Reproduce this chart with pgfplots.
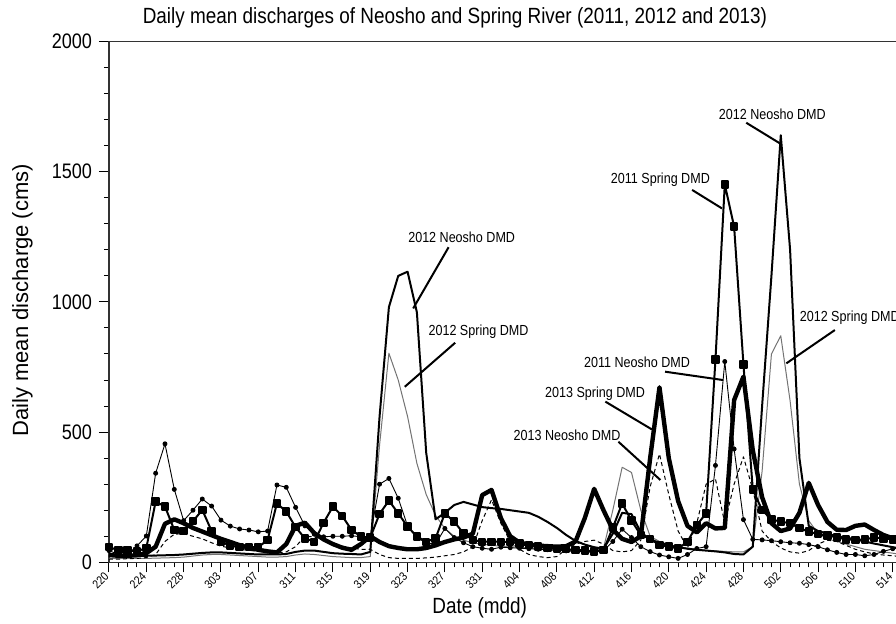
\documentclass[border=0pt]{standalone}
\usepackage{fontspec}
\setmainfont{Liberation Sans}[FakeStretch=0.86]
\newfontfamily\verticalfont{Liberation Sans}
\usepackage{pgfplots}
\usepackage{pgfplotstable}
\pgfplotsset{compat=1.18}

% Daily mean discharge (cms); i = day index from 20 Feb (220) to 15 May
% s11 = 2011 Spring, n11 = 2011 Neosho, n12 = 2012 Neosho,
% s12 = 2012 Spring, s13 = 2013 Spring, n13 = 2013 Neosho
\pgfplotstableread{
i s11 n11 n12 s12 s13 n13
0 58 45 25 15 28 12
1 47 30 25 15 25 12
2 45 30 25 15 25 14
3 42 63 25 15 27 15
4 55 101 25 15 35 18
5 233 342 26 16 60 30
6 214 455 27 17 148 80
7 124 280 28 18 165 108
8 120 160 30 20 150 110
9 158 200 33 24 132 100
10 201 243 36 28 118 90
11 120 216 38 30 104 75
12 79 162 38 30 90 62
13 63 139 36 28 78 55
14 58 128 34 26 66 50
15 58 124 32 24 56 46
16 58 117 30 22 48 42
17 86 120 30 20 42 38
18 226 297 30 20 38 35
19 195 288 32 22 70 40
20 135 211 40 28 140 60
21 92 140 45 32 152 100
22 79 108 45 30 112 98
23 152 98 40 26 88 85
24 214 100 35 22 70 75
25 178 100 33 20 56 62
26 124 102 32 18 48 55
27 99 98 30 18 70 50
28 95 100 40 22 100 50
29 186 300 560 450 78 30
30 237 322 980 803 62 18
31 188 246 1100 700 55 15
32 137 140 1116 560 50 15
33 99 95 960 380 50 15
34 79 75 420 260 55 17
35 92 70 165 180 65 20
36 188 130 190 130 78 25
37 156 95 220 100 88 30
38 111 75 232 85 95 40
39 86 60 222 75 110 60
40 79 54 212 70 258 160
41 79 50 208 65 278 240
42 79 58 205 62 170 150
43 78 56 200 60 100 80
44 72 54 195 58 76 50
45 66 52 190 55 68 30
46 60 50 175 52 64 22
47 55 48 155 50 62 18
48 52 46 132 48 60 22
49 50 44 105 46 62 50
50 48 42 82 45 80 70
51 45 40 68 44 170 80
52 42 38 58 45 282 85
53 47 45 52 55 200 70
54 133 80 110 200 125 45
55 226 127 190 365 90 40
56 160 95 185 345 78 45
57 105 60 115 200 100 85
58 90 41 88 100 400 290
59 66 28 75 80 672 416
60 60 21 65 68 400 260
61 53 15 58 60 235 120
62 79 30 52 55 140 55
63 143 53 48 50 115 150
64 188 60 45 46 150 300
65 779 372 42 44 130 320
66 1451 771 38 42 132 150
67 1289 435 32 40 623 300
68 760 164 30 40 713 405
69 280 88 60 60 430 280
70 200 86 600 350 250 120
71 165 83 1100 800 150 80
72 156 79 1640 870 120 55
73 150 75 1200 620 130 40
74 131 73 400 300 190 35
75 118 68 140 160 305 45
76 108 60 120 110 220 70
77 103 48 110 90 155 85
78 96 38 100 80 125 80
79 88 30 95 70 124 65
80 86 30 88 60 140 50
81 88 25 80 50 145 40
82 95 30 72 45 124 32
83 92 42 65 40 105 28
84 88 52 58 35 92 25
85 85 55 52 30 85 22
}\dmd

\begin{document}
\begin{tikzpicture}[
  anno/.style={font=\fontsize{7.3}{8}\selectfont, inner sep=0pt},
  leader/.style={line width=1pt, black}]
\useasboundingbox (-54.5pt,-30.35pt) rectangle (393.5pt,281.15pt);
\clip (-54.5pt,-30.35pt) rectangle (393.5pt,281.15pt);
\begin{axis}[
  scale only axis,
  width=401.2pt, height=260.4pt,
  xmin=0, xmax=86, ymin=0, ymax=2000,
  axis line style={line width=0.6pt, black!80},
  tick align=outside,
  tick style={black, line width=0.5pt},
  major tick length=5pt, minor tick length=2.5pt,
  xtick={0,4,...,84},
  xticklabels={220,224,228,303,307,311,315,319,323,327,331,404,408,412,416,420,424,428,502,506,510,514},
  minor x tick num=3,
  ytick={0,500,1000,1500,2000},
  minor y tick num=4,
  xtick pos=bottom, ytick pos=left,
  /pgf/number format/assume math mode=true,
  /pgf/number format/1000 sep={},
  xticklabel style={rotate=45, anchor=east, inner sep=1.5pt, font=\fontsize{6}{7}\selectfont},
  yticklabel style={font=\fontsize{10.5}{12}\selectfont},
  xlabel={Date (mdd)},
  xlabel style={at={(axis description cs:0.462,-0.0877)}, anchor=center, font=\fontsize{11}{13}\selectfont, inner sep=0pt},
  ylabel={\verticalfont Daily mean discharge (cms)},
  ylabel style={at={(axis description cs:-0.108,0.503)}, anchor=center, rotate=0, font=\fontsize{11}{13}\selectfont, inner sep=0pt},
  line join=round,
]
% 2012 Spring: thin grey line
\addplot[black!55, line width=0.5pt, no markers] table[x=i, y=s12] {\dmd};
% 2013 Neosho: dashed line
\addplot[black, line width=0.5pt, dash pattern=on 2pt off 1.5pt, no markers] table[x=i, y=n13] {\dmd};
% 2012 Neosho: medium solid line
\addplot[black, line width=1pt, no markers] table[x=i, y=n12] {\dmd};
% 2013 Spring: heavy line
\addplot[black, line width=2.2pt, no markers] table[x=i, y=s13] {\dmd};
% 2011 Neosho: thin line with dots
\addplot[black, line width=0.45pt, mark=*, mark size=1pt] table[x=i, y=n11] {\dmd};
% 2011 Spring: line with squares
\addplot[black, line width=1pt, mark=square*, mark size=1.6pt] table[x=i, y=s11] {\dmd};

% series labels with leader lines
\node[anno] at (axis cs:37.8,1248) {2012 Neosho DMD};
\draw[leader] (axis cs:36.4,1210) -- (axis cs:32.6,975);
\node[anno] at (axis cs:39.6,886) {2012 Spring DMD};
\draw[leader] (axis cs:37.1,843) -- (axis cs:31.7,674);
\node[anno] at (axis cs:52.1,649) {2013 Spring DMD};
\draw[leader] (axis cs:53.2,617) -- (axis cs:58.2,510);
\node[anno] at (axis cs:49.1,489) {2013 Neosho DMD};
\draw[leader] (axis cs:54.6,463) -- (axis cs:59.1,316);
\node[anno] at (axis cs:56.6,770) {2011 Neosho DMD};
\draw[leader] (axis cs:59.6,732) -- (axis cs:65.8,700);
\node[anno] at (axis cs:59.1,1471) {2011 Spring DMD};
\draw[leader] (axis cs:62.5,1430) -- (axis cs:65.7,1359);
\node[anno] at (axis cs:71.1,1722) {2012 Neosho DMD};
\draw[leader] (axis cs:68.3,1688) -- (axis cs:71.9,1609);
\node[anno, anchor=west] at (axis cs:74.0,939) {2012 Spring DMD};
\draw[leader] (axis cs:77.8,892) -- (axis cs:72.6,764);
\end{axis}
% chart title
\node[font=\fontsize{11}{13}\selectfont, inner sep=0pt] at (173pt,272.2pt)
  {Daily mean discharges of Neosho and Spring River (2011, 2012 and 2013)};
\end{tikzpicture}
\end{document}
